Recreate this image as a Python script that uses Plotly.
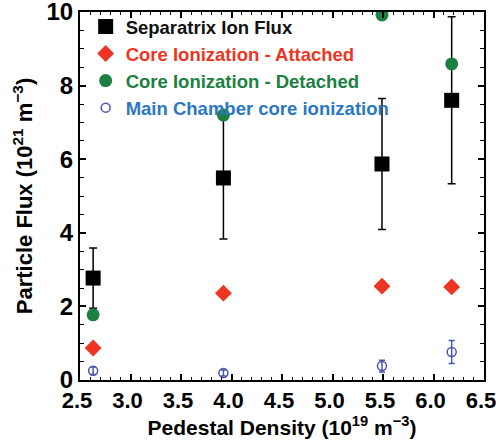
import plotly.graph_objects as go

density = [2.63, 3.92, 5.49, 6.18]
sep_flux = [2.77, 5.49, 5.87, 7.60]
sep_err = [0.82, 1.66, 1.78, 2.27]
core_att = [0.87, 2.36, 2.55, 2.53]
core_det = [1.77, 7.20, 9.92, 8.59]
main_ch = [0.25, 0.19, 0.38, 0.76]
main_err = [0.10, 0.08, 0.16, 0.31]

FONT = "Liberation Sans, Arial, sans-serif"

fig = go.Figure()
fig.add_trace(go.Scatter(
    x=density, y=sep_flux, mode="markers",
    name="<b><span style='color:#111111'>Separatrix Ion Flux</span></b>",
    marker=dict(symbol="square", size=15, color="black"),
    error_y=dict(type="data", array=sep_err, color="black", thickness=1.5, width=4),
))
fig.add_trace(go.Scatter(
    x=density, y=core_att, mode="markers",
    name="<b><span style='color:#ee3524'>Core Ionization - Attached</span></b>",
    marker=dict(symbol="diamond", size=13, color="#ee3524"),
))
fig.add_trace(go.Scatter(
    x=density, y=core_det, mode="markers",
    name="<b><span style='color:#1c8040'>Core Ionization - Detached</span></b>",
    marker=dict(symbol="circle", size=13, color="#1c8040"),
))
fig.add_trace(go.Scatter(
    x=density, y=main_ch, mode="markers",
    name="<b><span style='color:#2b78c2'>Main Chamber core ionization</span></b>",
    marker=dict(symbol="circle-open", size=9, color="#4a55b5", line=dict(width=1.5)),
    error_y=dict(type="data", array=main_err, color="#4a55b5", thickness=1.5, width=3),
))

fig.update_layout(
    width=496, height=445,
    margin=dict(l=80, r=12, t=12, b=65, autoexpand=False),
    paper_bgcolor="white", plot_bgcolor="white",
    font=dict(family=FONT, size=18, color="black"),
    showlegend=True,
    legend=dict(
        x=0.014, y=1.011, xanchor="left", yanchor="top",
        bgcolor="rgba(0,0,0,0)", borderwidth=0,
        font=dict(family=FONT, size=18.5),
        itemwidth=30, tracegroupgap=0,
    ),
    xaxis=dict(
        range=[2.5, 6.5], dtick=0.5, tick0=2.5, tickformat=".1f",
        showgrid=False, zeroline=False, automargin=False,
        showline=True, linecolor="black", linewidth=2, mirror="allticks",
        ticks="inside", ticklen=6, tickwidth=1.5, tickcolor="black",
        minor=dict(dtick=0.1, ticks="inside", ticklen=3, tickwidth=1.2, tickcolor="black"),
        tickfont=dict(family=FONT, size=22, color="black", weight="bold"),
        ticklabeloverflow="allow", ticklabelshift=-3,
        title=dict(text="<b>Pedestal Density (10<sup>19</sup> m<sup>−3</sup>)</b>",
                   font=dict(family=FONT, size=21), standoff=2),
    ),
    yaxis=dict(
        range=[0, 10], dtick=2, tick0=0,
        showgrid=False, zeroline=False, automargin=False,
        showline=True, linecolor="black", linewidth=2, mirror="allticks",
        ticks="inside", ticklen=6, tickwidth=1.5, tickcolor="black",
        minor=dict(dtick=0.5, ticks="inside", ticklen=4, tickwidth=1.2, tickcolor="black"),
        tickfont=dict(family=FONT, size=24, color="black", weight="bold"),
        ticklabeloverflow="allow",
        title=dict(text="<b>Particle Flux (10<sup>21</sup> m<sup>−3</sup>)</b>",
                   font=dict(family=FONT, size=22), standoff=8),
    ),
)

fig.write_html("out.html", config={"displayModeBar": False},
               post_script="document.body.style.margin='0';document.body.style.overflow='hidden';")
